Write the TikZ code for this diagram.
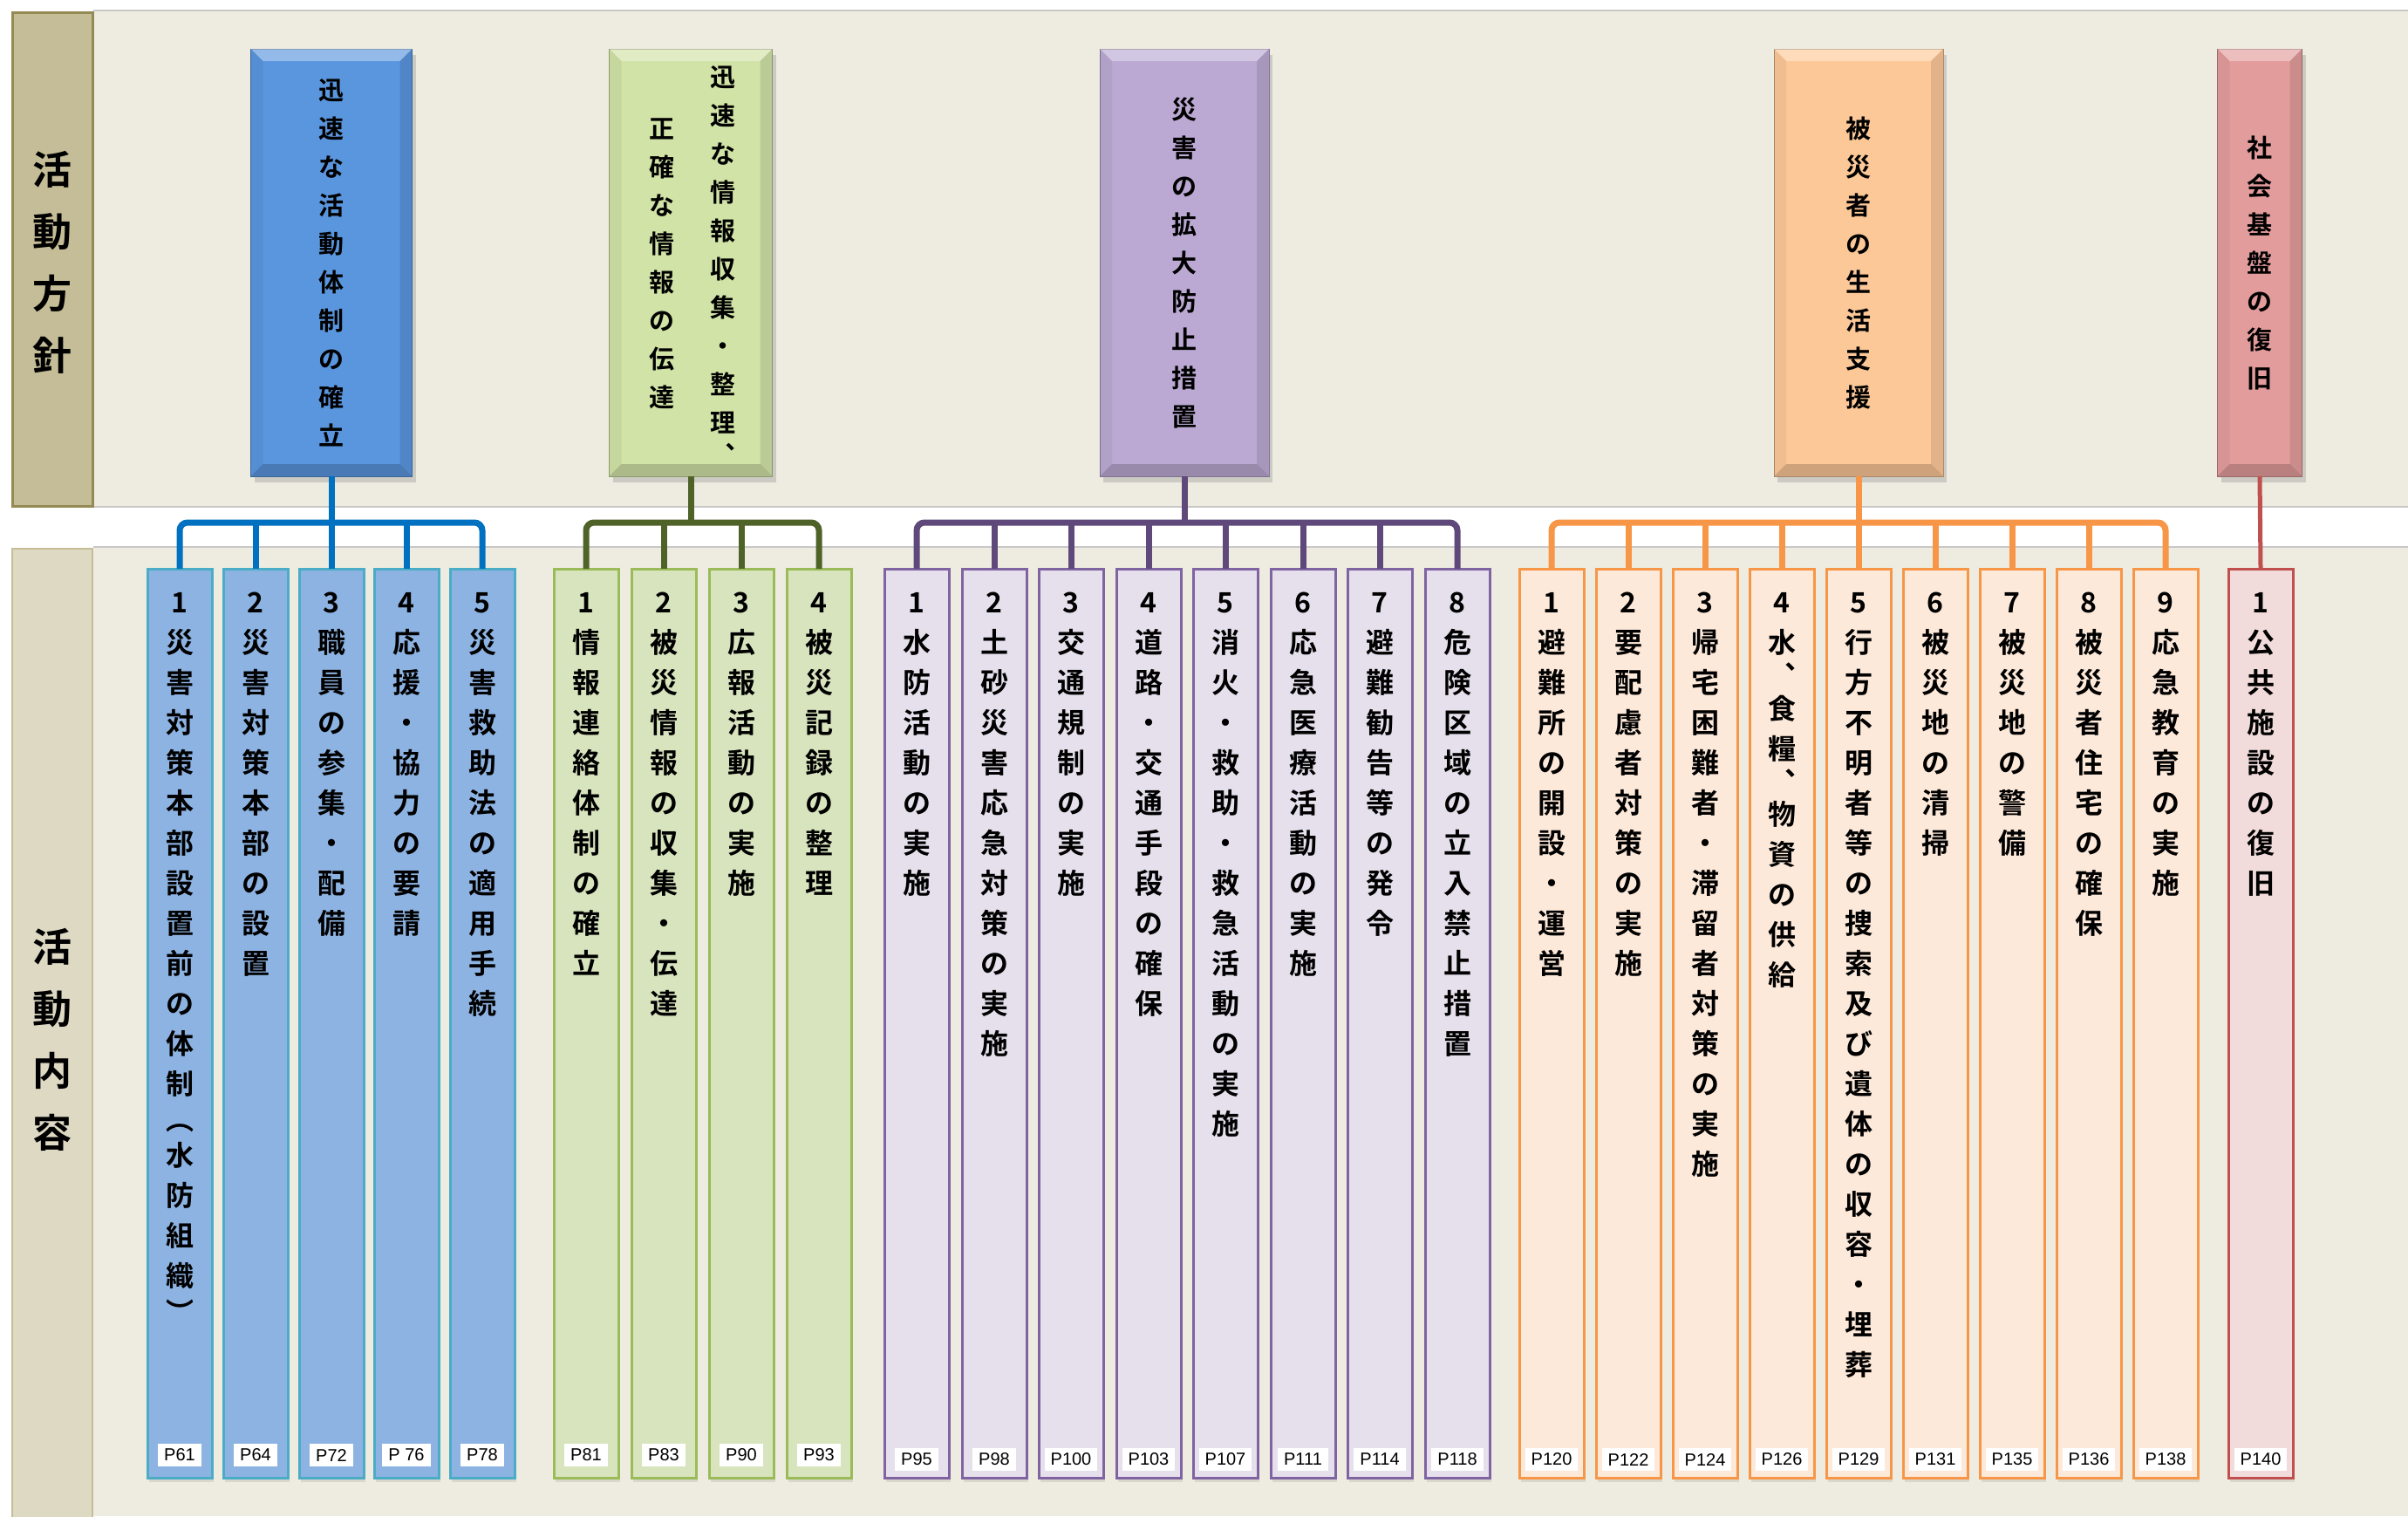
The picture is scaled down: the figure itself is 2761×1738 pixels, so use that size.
\documentclass[tikz,border=0pt]{standalone}
\usepackage{fontspec}
\usetikzlibrary{calc,shadows}
\newfontfamily\jp{Noto Sans CJK JP}[BoldFont={Noto Sans CJK JP Bold}]
\newfontfamily\pnfont{Liberation Sans}
\definecolor{bandbg}{HTML}{EEECE1}
\definecolor{bandline}{HTML}{C8C8C8}
\definecolor{labA}{HTML}{C4BD97}
\definecolor{labAb}{HTML}{948A54}
\definecolor{labB}{HTML}{DDD9C3}
\definecolor{labBb}{HTML}{C4BD97}
\definecolor{hblue}{HTML}{5A96DE}
\definecolor{hgreen}{HTML}{D1E3A6}
\definecolor{hpurple}{HTML}{BBA9D3}
\definecolor{horange}{HTML}{FCC898}
\definecolor{hred}{HTML}{E39C9C}
\definecolor{lblue}{HTML}{0070C0}
\definecolor{lgreen}{HTML}{4F6228}
\definecolor{lpurple}{HTML}{5F497A}
\definecolor{lorange}{HTML}{F79646}
\definecolor{lred}{HTML}{C0504D}
\definecolor{cblue}{HTML}{8DB3E2}
\definecolor{bblue}{HTML}{4BACC6}
\definecolor{cgreen}{HTML}{D7E4BD}
\definecolor{bgreen}{HTML}{9BBB59}
\definecolor{cpurple}{HTML}{E5E0EC}
\definecolor{bpurple}{HTML}{8064A2}
\definecolor{corange}{HTML}{FDE9D9}
\definecolor{borange}{HTML}{F79646}
\definecolor{cred}{HTML}{F2DCDB}
\definecolor{bred}{HTML}{C0504D}
% vertical text
\newdimen\vtp \newdimen\vtw
\def\vtcellbox#1#2{\vbox to #1{\vss\hbox to \vtw{\hss\vrule height .88em depth .12em width 0pt\relax #2\hss}\vss}}
\def\vtcell#1{\ifx#1、\vtcellbox{.65\vtp}{︑}\else\ifx#1（\vtcellbox{.8\vtp}{︵}\else\ifx#1）\vtcellbox{.8\vtp}{︶}\else\vtcellbox{\vtp}{#1}\fi\fi\fi}
\def\vtloop#1{\ifx#1\relax\else\vtcell{#1}\expandafter\vtloop\fi}
\newcommand\vt[2][46pt]{\vtp=#1\relax\vtw=2\vtp\vbox{\offinterlineskip\expandafter\vtloop#2\relax}}
\newcommand\hbevel[1]{%
 \fill[white,opacity=.35] (#1.north west) -- (#1.north east) -- ($(#1.north east)+(-14,14)$) -- ($(#1.north west)+(14,14)$) -- cycle;
 \fill[black,opacity=.18] (#1.south west) -- (#1.south east) -- ($(#1.south east)+(-14,-14)$) -- ($(#1.south west)+(14,-14)$) -- cycle;
 \fill[black,opacity=.05] (#1.north west) -- ($(#1.north west)+(14,14)$) -- ($(#1.south west)+(14,-14)$) -- (#1.south west) -- cycle;
 \fill[black,opacity=.10] (#1.north east) -- ($(#1.north east)+(-14,14)$) -- ($(#1.south east)+(-14,-14)$) -- (#1.south east) -- cycle;}
\tikzset{
 every node/.style={inner sep=0pt,outer sep=0pt},
 hbox/.style={fill=#1,draw=#1!70!black,line width=1pt,minimum height=490pt,
   drop shadow={shadow xshift=4pt,shadow yshift=-7pt,opacity=.3}},
 htext/.style={font=\jp\bfseries\fontsize{29}{29}\selectfont},
 labtext/.style={font=\jp\bfseries\fontsize{45}{45}\selectfont},
 cbox/.style 2 args={fill=#1,draw=#2,line width=3pt,minimum width=74pt,minimum height=1042pt,
   drop shadow={shadow xshift=2pt,shadow yshift=-5pt,opacity=.2}},
 ctext/.style={font=\jp\bfseries\fontsize{32}{32}\selectfont,anchor=north},
 pnum/.style={fill=white,font=\pnfont\fontsize{20}{20}\selectfont,inner xsep=7pt,minimum height=26pt},
 conn/.style={draw=#1,line width=7pt,rounded corners=9pt},
}
\begin{document}
\begin{tikzpicture}[x=1pt,y=-1pt]
\useasboundingbox (0,0) rectangle (2761,1738);
\fill[white] (0,0) rectangle (2761,1738);
% bands
\fill[bandbg] (107,12) rectangle (2761,581);
\draw[bandline,line width=1.5pt] (107,12) -- (2761,12);
\draw[bandline,line width=1.5pt] (107,581) -- (2761,581);
\fill[bandbg] (107,627) rectangle (2761,1738);
\draw[bandline,line width=1.5pt] (107,627) -- (2761,627);
% left labels
\node[fill=labA,draw=labAb,line width=3pt,minimum width=92pt,minimum height=566pt] (LA) at (60,297) {};
\node[labtext] (LAt) at ($(LA)+(0,4)$) {\vt[71pt]{活動方針}};
\node[fill=labB,draw=labBb,line width=2pt,minimum width=92pt,minimum height=1120pt] (LB) at (60,1189) {};
\node[labtext] (LBt) at (60,1192) {\vt[71pt]{活動内容}};
% headers
\node[hbox=hblue,minimum width=185pt] (h1) at (380,301) {};
\node[hbox=hgreen,minimum width=187pt] (h2) at (792,301) {};
\node[hbox=hpurple,minimum width=194pt] (h3) at (1358,301) {};
\node[hbox=horange,minimum width=194pt] (h4) at (2131,301) {};
\node[hbox=hred,minimum width=97pt] (h5) at (2591,301) {};
\hbevel{h1}\hbevel{h2}\hbevel{h3}\hbevel{h4}\hbevel{h5}
\node[htext] (h1t) at (h1) {\vt[44pt]{迅速な活動体制の確立}};
\node[htext] (h2a) at ($(h2)+(37,0)$) {\vt[44pt]{迅速な情報収集・整理、}};
\node[htext] (h2b) at ($(h2)+(-33,0)$) {\vt[44pt]{正確な情報の伝達}};
\node[htext] (h3t) at (h3) {\vt[44pt]{災害の拡大防止措置}};
\node[htext] (h4t) at (h4) {\vt[44pt]{被災者の生活支援}};
\node[htext] (h5t) at (h5) {\vt[44pt]{社会基盤の復旧}};
% children
\foreach \cx/\cn/\ct/\cp in {206/1/1災害対策本部設置前の体制（水防組織）/P61,293/2/2災害対策本部の設置/P64,380/3/3職員の参集・配備/P72,466/4/4応援・協力の要請/P 76,553/5/5災害救助法の適用手続/P78}{
  \node[cbox={cblue}{bblue}] (b\cn) at (\cx,1173) {};
  \node[ctext] (bt\cn) at ($(b\cn.north)+(0,15)$) {\vt{\ct}};
  \node[pnum] (bp\cn) at (\cx,1668) {\cp};
}
\foreach \cx/\cn/\ct/\cp in {672/1/1情報連絡体制の確立/P81,761/2/2被災情報の収集・伝達/P83,850/3/3広報活動の実施/P90,939/4/4被災記録の整理/P93}{
  \node[cbox={cgreen}{bgreen}] (g\cn) at (\cx,1173) {};
  \node[ctext] (gt\cn) at ($(g\cn.north)+(0,15)$) {\vt{\ct}};
  \node[pnum] (gp\cn) at (\cx,1668) {\cp};
}
\foreach \cx/\cn/\ct/\cp in {1051/1/1水防活動の実施/P95,1140/2/2土砂災害応急対策の実施/P98,1228/3/3交通規制の実施/P100,1317/4/4道路・交通手段の確保/P103,1405/5/5消火・救助・救急活動の実施/P107,1494/6/6応急医療活動の実施/P111,1582/7/7避難勧告等の発令/P114,1671/8/8危険区域の立入禁止措置/P118}{
  \node[cbox={cpurple}{bpurple}] (v\cn) at (\cx,1173) {};
  \node[ctext] (vt\cn) at ($(v\cn.north)+(0,15)$) {\vt{\ct}};
  \node[pnum] (vp\cn) at (\cx,1673) {\cp};
}
\foreach \cx/\cn/\ct/\cp in {1779/1/1避難所の開設・運営/P120,1867/2/2要配慮者対策の実施/P122,1955/3/3帰宅困難者・滞留者対策の実施/P124,2043/4/4水、食糧、物資の供給/P126,2131/5/5行方不明者等の捜索及び遺体の収容・埋葬/P129,2219/6/6被災地の清掃/P131,2307/7/7被災地の警備/P135,2395/8/8被災者住宅の確保/P136,2483/9/9応急教育の実施/P138}{
  \node[cbox={corange}{borange}] (o\cn) at (\cx,1173) {};
  \node[ctext] (ot\cn) at ($(o\cn.north)+(0,15)$) {\vt{\ct}};
  \node[pnum] (op\cn) at (\cx,1673) {\cp};
}
\node[cbox={cred}{bred}] (r1) at (2592,1173) {};
\node[ctext] (rt1) at ($(r1.north)+(0,15)$) {\vt{1公共施設の復旧}};
\node[pnum] (rp1) at (2592,1673) {P140};
% connectors
\coordinate (barY) at (0,599);
\draw[conn=lblue] (b1.north) -- (b1.north |- barY) -- (b5.north |- barY) -- (b5.north);
\foreach \i in {2,3,4} \draw[conn=lblue] (b\i.north) -- (b\i.north |- barY);
\draw[conn=lblue] (h1.south) -- (h1.south |- barY);
\draw[conn=lgreen] (g1.north) -- (g1.north |- barY) -- (g4.north |- barY) -- (g4.north);
\foreach \i in {2,3} \draw[conn=lgreen] (g\i.north) -- (g\i.north |- barY);
\draw[conn=lgreen] (h2.south) -- (h2.south |- barY);
\draw[conn=lpurple] (v1.north) -- (v1.north |- barY) -- (v8.north |- barY) -- (v8.north);
\foreach \i in {2,...,7} \draw[conn=lpurple] (v\i.north) -- (v\i.north |- barY);
\draw[conn=lpurple] (h3.south) -- (h3.south |- barY);
\draw[conn=lorange] (o1.north) -- (o1.north |- barY) -- (o9.north |- barY) -- (o9.north);
\foreach \i in {2,...,8} \draw[conn=lorange] (o\i.north) -- (o\i.north |- barY);
\draw[conn=lorange] (h4.south) -- (h4.south |- barY);
\draw[draw=lred,line width=5pt] (h5.south) -- (r1.north);
\end{tikzpicture}
\end{document}
